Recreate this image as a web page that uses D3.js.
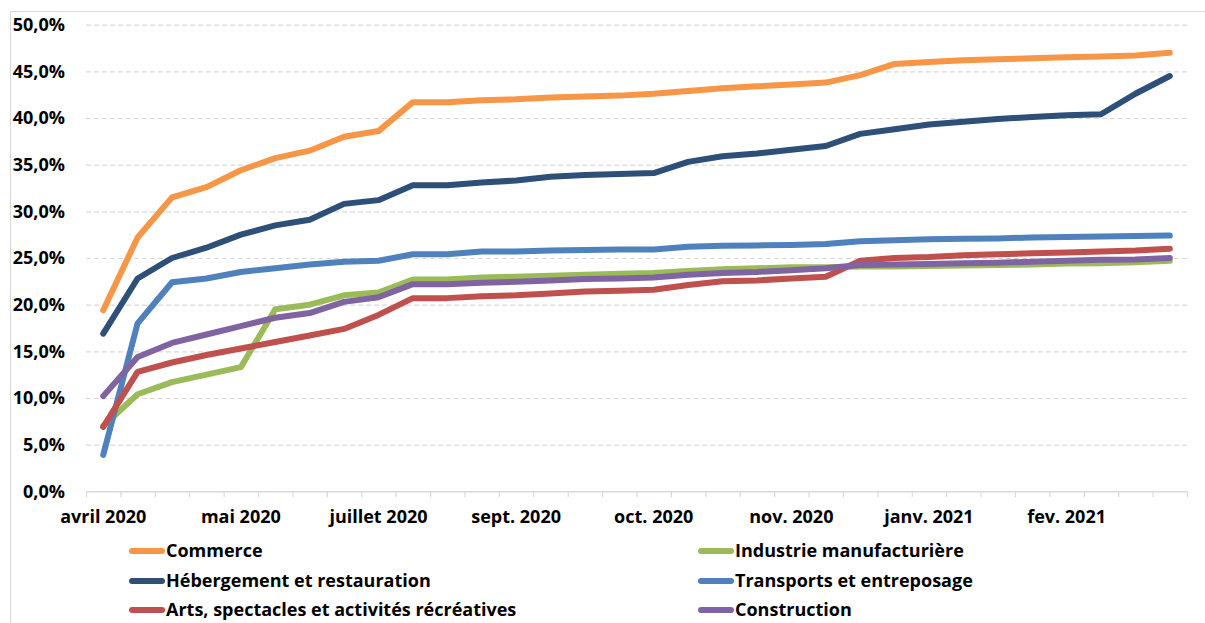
<!DOCTYPE html>
<html>
<head>
<meta charset="utf-8">
<script src="https://cdn.jsdelivr.net/npm/d3@7"></script>
<style>
  html, body { margin: 0; padding: 0; background: #fff; }
  svg { display: block; font-family: "Open Sans", "Noto Sans", sans-serif; font-weight: 700; }
</style>
</head>
<body>
<svg id="chart" width="1205" height="623"></svg>
<script>
// Tick labels shown on the category axis, one every four periods
const tickLabels = ["avril 2020", "mai 2020", "juillet 2020", "sept. 2020",
                    "oct. 2020", "nov. 2020", "janv. 2021", "fev. 2021"];

// Cumulative share per sector (%), 32 consecutive periods
const commerce = [19.4, 27.2, 31.5, 32.6, 34.4, 35.7, 36.5, 38.0, 38.6, 41.7, 41.7, 41.9,
                  42.0, 42.2, 42.3, 42.4, 42.6, 42.9, 43.2, 43.4, 43.6, 43.8, 44.6, 45.8,
                  46.0, 46.2, 46.3, 46.4, 46.5, 46.6, 46.7, 47.0];
const industrie = [7.0, 10.4, 11.7, 12.5, 13.3, 19.5, 20.0, 21.0, 21.3, 22.7, 22.7, 22.9,
                   23.0, 23.1, 23.2, 23.3, 23.4, 23.6, 23.8, 23.9, 24.0, 24.0, 24.1, 24.1,
                   24.15, 24.2, 24.25, 24.3, 24.4, 24.45, 24.55, 24.7];
const hebergement = [16.9, 22.8, 25.0, 26.1, 27.5, 28.5, 29.1, 30.8, 31.2, 32.8, 32.8, 33.1,
                     33.3, 33.7, 33.9, 34.0, 34.1, 35.3, 35.9, 36.2, 36.6, 37.0, 38.3, 38.8,
                     39.3, 39.6, 39.9, 40.1, 40.3, 40.4, 42.6, 44.5];
const transports = [3.9, 18.0, 22.4, 22.8, 23.5, 23.9, 24.3, 24.6, 24.7, 25.4, 25.4, 25.7,
                    25.7, 25.8, 25.85, 25.9, 25.9, 26.2, 26.3, 26.35, 26.4, 26.5, 26.8, 26.9,
                    27.0, 27.05, 27.1, 27.2, 27.25, 27.3, 27.35, 27.4];
const arts = [6.9, 12.8, 13.8, 14.6, 15.3, 16.0, 16.7, 17.4, 18.9, 20.7, 20.7, 20.9,
              21.0, 21.2, 21.4, 21.5, 21.6, 22.1, 22.5, 22.6, 22.8, 23.0, 24.7, 25.0,
              25.1, 25.3, 25.4, 25.5, 25.6, 25.7, 25.8, 26.0];
const construction = [10.2, 14.4, 15.9, 16.8, 17.7, 18.6, 19.1, 20.3, 20.8, 22.2, 22.2, 22.35,
                      22.45, 22.6, 22.75, 22.8, 22.9, 23.2, 23.4, 23.5, 23.7, 23.9, 24.25, 24.3,
                      24.35, 24.45, 24.5, 24.6, 24.7, 24.8, 24.85, 25.0];

// Series in drawing order (later ones drawn on top)
const seriesNames = ["Commerce", "Industrie manufacturière", "Hébergement et restauration",
                     "Transports et entreposage", "Arts, spectacles et activités récréatives", "Construction"];
const seriesValues = [commerce, industrie, hebergement, transports, arts, construction];
const seriesColors = ["#F79646", "#9BBB59", "#2D4F78", "#4F81BD", "#C0504D", "#8064A2"];

const yTicks = [0, 5, 10, 15, 20, 25, 30, 35, 40, 45, 50];

const svg = d3.select("#chart");
const plot = { left: 86, right: 1187, top: 24.7, bottom: 491.3 };
const nPeriods = commerce.length;

// Chart frame
svg.append("rect")
  .attr("x", 10.5).attr("y", 11.5)
  .attr("width", 1300).attr("height", 700)
  .attr("fill", "#fff").attr("stroke", "#D9D9D9").attr("stroke-width", 1);

const x = d3.scaleBand()
  .domain(d3.range(nPeriods))
  .range([plot.left, plot.right])
  .paddingInner(0).paddingOuter(0);
const xEdge = d3.scaleLinear().domain([0, nPeriods]).range([plot.left, plot.right]);
const y = d3.scaleLinear().domain([0, 50]).range([plot.bottom, plot.top]);

const fmt = v => d3.format(".1f")(v).replace(".", ",") + "%";

// Horizontal dashed gridlines
const grid = svg.append("g")
  .attr("transform", `translate(${plot.left},0)`)
  .call(d3.axisLeft(y).tickValues(yTicks.filter(t => t > 0))
    .tickSize(-(plot.right - plot.left)).tickFormat(""));
grid.select(".domain").remove();
grid.selectAll("line")
  .attr("stroke", "#D9D9D9").attr("stroke-width", 1.2).attr("stroke-dasharray", "5,3");

// Y axis labels
const yAxis = svg.append("g")
  .attr("transform", `translate(${plot.left - 21},0)`)
  .call(d3.axisLeft(y).tickValues(yTicks).tickSize(0).tickPadding(0).tickFormat(fmt));
yAxis.select(".domain").remove();
yAxis.selectAll("text")
  .attr("fill", "#000").style("font-size", "18px").style("font-weight", 700)
  .style("font-family", "'Open Sans', sans-serif");

// Category axis: line with boundary ticks
const xTicksG = svg.append("g")
  .attr("transform", `translate(0,${plot.bottom})`)
  .call(d3.axisBottom(xEdge).tickValues(d3.range(nPeriods + 1)).tickSize(6).tickFormat("").tickSizeOuter(0));
xTicksG.select(".domain").attr("stroke", "#D9D9D9").attr("stroke-width", 1.5);
xTicksG.selectAll(".tick line").attr("stroke", "#D9D9D9").attr("stroke-width", 1.2);

// Category labels
const labelIdx = tickLabels.map((_, i) => i * 4);
const xLabels = svg.append("g")
  .attr("transform", `translate(0,${plot.bottom})`)
  .call(d3.axisBottom(x).tickValues(labelIdx).tickSize(0).tickPadding(19)
    .tickFormat(d => tickLabels[labelIdx.indexOf(d)]));
xLabels.select(".domain").remove();
xLabels.selectAll("text")
  .attr("fill", "#000").style("font-size", "18px").style("font-weight", 700)
  .style("font-family", "'Open Sans', sans-serif");

// Series lines
const line = d3.line()
  .x((d, i) => x(i) + x.bandwidth() / 2)
  .y(d => y(d));

svg.append("g").selectAll("path")
  .data(seriesValues)
  .join("path")
  .attr("d", d => line(d))
  .attr("fill", "none")
  .attr("stroke", (d, i) => seriesColors[i])
  .attr("stroke-width", 6)
  .attr("stroke-linejoin", "round")
  .attr("stroke-linecap", "round");

// Legend: two columns, three rows
const legendCols = [129, 698];
const legendRows = [551, 581, 610];
const legend = svg.append("g").selectAll("g")
  .data(seriesNames)
  .join("g")
  .attr("transform", (d, i) => `translate(${legendCols[i % 2]},${legendRows[Math.floor(i / 2)]})`);
legend.append("line")
  .attr("x1", 3).attr("x2", 33).attr("y1", 0).attr("y2", 0)
  .attr("stroke", (d, i) => seriesColors[i])
  .attr("stroke-width", 6).attr("stroke-linecap", "round");
legend.append("text")
  .attr("x", 37).attr("y", 0).attr("dy", "0.35em")
  .attr("fill", "#000").style("font-size", "18px").style("font-weight", 700)
  .text(d => d);
</script>
</body>
</html>
